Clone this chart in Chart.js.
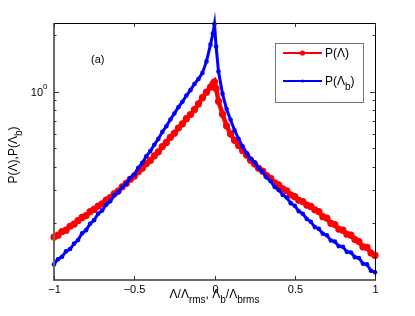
<!DOCTYPE html>
<html>
<head>
<meta charset="utf-8">
<script src="https://cdn.jsdelivr.net/npm/chart.js@4/dist/chart.umd.min.js"></script>
<style>
  html, body { margin: 0; padding: 0; background: #fff; }
  #wrap { width: 415px; height: 316px; }
</style>
</head>
<body>
<div id="wrap"><canvas id="chart" width="415" height="316"></canvas></div>
<script>
/* ─── Data ─── */
const xs = [
  -1, -0.975, -0.95, -0.925, -0.9, -0.875, -0.85, -0.825, -0.8, -0.775,
  -0.75, -0.725, -0.7, -0.675, -0.65, -0.625, -0.6, -0.575, -0.55, -0.525,
  -0.5, -0.475, -0.45, -0.425, -0.4, -0.375, -0.35, -0.325, -0.3, -0.275,
  -0.25, -0.225, -0.2, -0.175, -0.15, -0.125, -0.1, -0.075, -0.05, -0.025,
  -0.01, 0, 0.01,
  0.025, 0.05, 0.075, 0.1, 0.125, 0.15, 0.175, 0.2, 0.225, 0.25,
  0.275, 0.3, 0.325, 0.35, 0.375, 0.4, 0.425, 0.45, 0.475, 0.5,
  0.525, 0.55, 0.575, 0.6, 0.625, 0.65, 0.675, 0.7, 0.725, 0.75,
  0.775, 0.8, 0.825, 0.85, 0.875, 0.9, 0.925, 0.95, 0.975, 1
];

// P(Λ)  — red
const pLambda = [
  0.169, 0.173, 0.181, 0.184, 0.193, 0.198, 0.207, 0.215, 0.220, 0.231,
  0.237, 0.247, 0.254, 0.266, 0.274, 0.287, 0.297, 0.313, 0.326, 0.343,
  0.356, 0.376, 0.392, 0.415, 0.432, 0.457, 0.480, 0.512, 0.538, 0.573,
  0.602, 0.642, 0.676, 0.720, 0.757, 0.804, 0.862, 0.930, 0.995, 1.06,
  1.10, 1.13, 1.04,
  0.89, 0.76, 0.66, 0.596, 0.552, 0.519, 0.488, 0.461, 0.433, 0.413,
  0.392, 0.379, 0.359, 0.347, 0.328, 0.320, 0.305, 0.298, 0.283, 0.277,
  0.265, 0.261, 0.250, 0.246, 0.236, 0.231, 0.217, 0.213, 0.200, 0.197,
  0.186, 0.184, 0.175, 0.173, 0.164, 0.160, 0.150, 0.149, 0.139, 0.135
];

// P(Λb) — blue
const pLambdaB = [
  0.121, 0.129, 0.133, 0.142, 0.146, 0.156, 0.163, 0.177, 0.184, 0.199,
  0.208, 0.225, 0.234, 0.251, 0.262, 0.281, 0.292, 0.312, 0.325, 0.348,
  0.363, 0.394, 0.419, 0.454, 0.484, 0.523, 0.562, 0.612, 0.656, 0.713,
  0.767, 0.828, 0.885, 0.955, 1.02, 1.10, 1.17, 1.26, 1.45, 1.78,
  2.04, 2.29, 1.74,
  1.28, 0.975, 0.81, 0.71, 0.625, 0.562, 0.513, 0.473, 0.441, 0.422,
  0.394, 0.376, 0.351, 0.335, 0.312, 0.301, 0.283, 0.274, 0.256, 0.248,
  0.232, 0.225, 0.211, 0.204, 0.191, 0.187, 0.176, 0.173, 0.162, 0.160,
  0.151, 0.150, 0.141, 0.140, 0.132, 0.131, 0.122, 0.121, 0.112, 0.110
];

const xTicks      = [-1, -0.5, 0, 0.5, 1];
const xTickLabels = ["\u22121", "\u22120.5", "0", "0.5", "1"];
const yMinorTicks = [0.2, 0.3, 0.4, 0.5, 0.6, 0.7, 0.8, 0.9, 2];
const yMajorTicks = [1];

const FONT = '"Liberation Sans", Arial, Helvetica, sans-serif';

/* ─── text with sub/superscripts ─── */
function richWidth(ctx, parts, size) {
  let w = 0;
  parts.forEach(([t, kind]) => {
    ctx.font = (kind ? Math.round(size * 0.82) : size) + "px " + FONT;
    w += ctx.measureText(t).width;
  });
  return w;
}
function drawRich(ctx, parts, x, y, size, align) {
  const w = richWidth(ctx, parts, size);
  let cx = align === "center" ? x - w / 2 : x;
  ctx.textBaseline = "alphabetic";
  ctx.textAlign = "left";
  parts.forEach(([t, kind]) => {
    const s = kind ? Math.round(size * 0.82) : size;
    ctx.font = s + "px " + FONT;
    const dy = kind === "sub" ? size * 0.38 : kind === "sup" ? -size * 0.55 : 0;
    ctx.fillText(t, cx, y + dy);
    cx += ctx.measureText(t).width;
  });
}

/* ─── MATLAB-style axes, labels and legend ─── */
const matlabAxes = {
  id: "matlabAxes",
  afterDraw(chart) {
    const { ctx, chartArea: a, scales: { x, y } } = chart;
    ctx.save();
    ctx.fillStyle = "#000";

    // frame
    ctx.lineWidth = 1;
    ctx.strokeStyle = "#000";
    ctx.beginPath();
    ctx.moveTo(a.left, a.top + 0.5); ctx.lineTo(a.right + 0.5, a.top + 0.5);
    ctx.lineTo(a.right + 0.5, a.bottom);
    ctx.stroke();
    ctx.strokeStyle = "#6a6a6a";
    ctx.lineWidth = 2;
    ctx.beginPath();
    ctx.moveTo(a.left, a.top); ctx.lineTo(a.left, a.bottom); ctx.lineTo(a.right + 1, a.bottom);
    ctx.stroke();

    // x ticks
    ctx.lineWidth = 1;
    ctx.strokeStyle = "#333";
    xTicks.forEach((v, i) => {
      const px = Math.round(x.getPixelForValue(v)) + 0.5;
      ctx.beginPath();
      ctx.moveTo(px, a.bottom); ctx.lineTo(px, a.bottom - 4);
      ctx.moveTo(px, a.top); ctx.lineTo(px, a.top + 4);
      ctx.stroke();
      ctx.font = "11px " + FONT;
      ctx.textAlign = "center";
      ctx.textBaseline = "alphabetic";
      ctx.fillText(xTickLabels[i], px, a.bottom + 13);
    });

    // y ticks (log)
    const yTick = (v, len) => {
      const py = Math.round(y.getPixelForValue(v)) + 0.5;
      ctx.beginPath();
      ctx.moveTo(a.left, py); ctx.lineTo(a.left + len, py);
      ctx.moveTo(a.right, py); ctx.lineTo(a.right - len, py);
      ctx.stroke();
    };
    yMinorTicks.forEach(v => yTick(v, 2.5));
    yMajorTicks.forEach(v => yTick(v, 5));
    const p1 = y.getPixelForValue(1);
    ctx.font = "11px " + FONT;
    ctx.textAlign = "right";
    ctx.textBaseline = "middle";
    ctx.fillText("10", a.left - 11, p1 + 1);
    ctx.font = "8px " + FONT;
    ctx.textAlign = "left";
    ctx.fillText("0", a.left - 11, p1 - 5);

    // axis titles
    drawRich(ctx, [["\u039B/\u039B"], ["rms", "sub"], [", \u039B"], ["b", "sub"], ["/\u039B"], ["brms", "sub"]],
      (a.left + a.right) / 2, a.bottom + 18, 12, "center");
    ctx.save();
    ctx.translate(17, 155);
    ctx.rotate(-Math.PI / 2);
    drawRich(ctx, [["P(\u039B),P(\u039B"], ["b", "sub"], [")"]], 0, 0, 12, "center");
    ctx.restore();

    // panel tag
    ctx.font = "11px " + FONT;
    ctx.textAlign = "left";
    ctx.textBaseline = "middle";
    ctx.fillText("(a)", 91, 60);

    // legend
    ctx.fillStyle = "#fff";
    ctx.fillRect(275, 43, 88, 59);
    ctx.strokeStyle = "#777";
    ctx.lineWidth = 1;
    ctx.strokeRect(275.5, 43.5, 88, 59);
    const legendRow = (color, yy, r, label) => {
      ctx.strokeStyle = color;
      ctx.lineWidth = 2;
      ctx.beginPath(); ctx.moveTo(283, yy); ctx.lineTo(322, yy); ctx.stroke();
      ctx.fillStyle = color;
      ctx.beginPath(); ctx.arc(302.5, yy, r, 0, Math.PI * 2); ctx.fill();
      ctx.fillStyle = "#000";
      drawRich(ctx, label, 325, yy + 4, 12, "left");
    };
    legendRow("#ff0000", 53, 2.6, [["P(\u039B)"]]);
    legendRow("#0000ff", 81, 1.6, [["P(\u039B"], ["b", "sub"], [")"]]);

    ctx.restore();
  }
};

/* ─── Chart ─── */
new Chart(document.getElementById("chart"), {
  type: "line",
  data: {
    datasets: [
      {
        label: "P(\u039B)",
        data: xs.map((v, i) => ({ x: v, y: pLambda[i] })),
        borderColor: "#ff0000",
        backgroundColor: "#ff0000",
        borderWidth: 4.5,
        pointRadius: 3.6,
        pointBorderWidth: 0,
        pointBackgroundColor: "#ff0000",
        tension: 0,
        clip: false,
        order: 2,
      },
      {
        label: "P(\u039Bb)",
        data: xs.map((v, i) => ({ x: v, y: pLambdaB[i] })),
        borderColor: "#0000ff",
        backgroundColor: "#0000ff",
        borderWidth: 3,
        pointRadius: 2.3,
        pointBorderWidth: 0,
        pointBackgroundColor: "#0000ff",
        tension: 0,
        clip: false,
        order: 1,
      },
    ],
  },
  options: {
    responsive: false,
    animation: false,
    layout: { padding: { left: 54, right: 40, top: 23, bottom: 36 } },
    plugins: { legend: { display: false }, tooltip: { enabled: false } },
    scales: {
      x: { type: "linear", min: -1, max: 1, display: false },
      y: { type: "logarithmic", min: 0.1, max: 2.32, display: false },
    },
  },
  plugins: [matlabAxes],
});
</script>
</body>
</html>
